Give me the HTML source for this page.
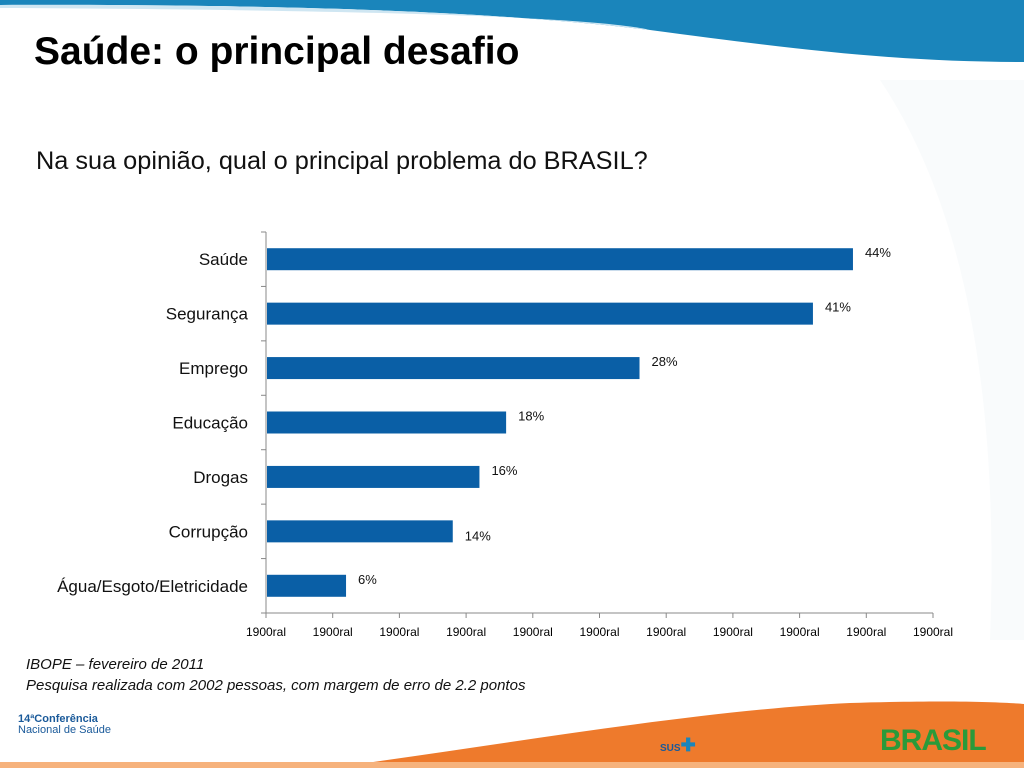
<!DOCTYPE html>
<html><head><meta charset="utf-8"><style>
body{margin:0;width:1024px;height:768px;overflow:hidden;background:#fff;font-family:"Liberation Sans",sans-serif;position:relative}
.t{position:absolute;white-space:nowrap}
</style></head><body>
<svg width="1024" height="768" style="position:absolute;left:0;top:0">
<path d="M0,0 L1024,0 L1024,62 C900,62 800,50 650,30 C500,12 300,4 0,5 Z" fill="#1a85bb"/>
<path d="M0,5 C300,4 500,12 650,30 C600,18 400,10 0,8 Z" fill="#cfe6f2"/>
<path d="M330,768 C500,745 700,710 850,703 C950,700 1000,702 1024,704 L1024,768 Z" fill="#ee7a2c"/>
<rect x="0" y="762" width="1024" height="6" fill="#f6b27c"/>
<path d="M880,80 C960,200 1000,380 990,640 L1024,640 L1024,80 Z" fill="#f9fbfc"/>
</svg>
<div class="t" style="left:34px;top:30px;font-size:39px;font-weight:bold;color:#000">Saúde: o principal desafio</div>
<div class="t" style="left:36px;top:147px;font-size:25.3px;color:#111">Na sua opinião, qual o principal problema do BRASIL?</div>
<svg id="chart" width="1024" height="768" style="position:absolute;left:0;top:0"></svg>
<div class="t" style="left:26px;top:654px;font-size:15px;font-style:italic;line-height:21px;color:#111">IBOPE – fevereiro de 2011<br>Pesquisa realizada com 2002 pessoas, com margem de erro de 2.2 pontos</div>
<div class="t" style="left:18px;top:714px;font-size:11px;font-weight:bold;color:#1a5a9a;line-height:11px">14ªConferência<br><span style="font-weight:normal">Nacional de Saúde</span></div>
<div class="t" style="left:660px;top:735px;font-size:10px;font-weight:bold;color:#1a5a9a">SUS<span style="color:#1a85bb;font-size:18px">✚</span></div>
<div class="t" style="left:880px;top:724px;font-size:30px;font-weight:bold;color:#2a9a3a;letter-spacing:-1px">BRASIL</div>
<script>
const categories=["Saúde","Segurança","Emprego","Educação","Drogas","Corrupção","Água/Esgoto/Eletricidade"];
const values=[44,41,28,18,16,14,6];
const labels=["44%","41%","28%","18%","16%","14%","6%"];
const tickLabels=["1900ral","1900ral","1900ral","1900ral","1900ral","1900ral","1900ral","1900ral","1900ral","1900ral","1900ral"];
const NS="http://www.w3.org/2000/svg",svg=document.getElementById('chart');
const x0=266,x1=933,y0=232,y1=613,maxV=50;
const xs=v=>x0+(x1-x0)*v/maxV;
const band=(y1-y0)/categories.length;
const yc=i=>y0+band*(i+0.5);
function mk(t,a){const e=document.createElementNS(NS,t);for(const k in a)e.setAttribute(k,a[k]);svg.appendChild(e);return e;}
let ax=mk('line',{x1:x0,y1:y0,x2:x0,y2:y1,stroke:'#888'});


let bx=mk('line',{x1:x0,y1:y1,x2:x1,y2:y1,stroke:'#888'});


for(let i=0;i<=categories.length;i++){mk('line',{x1:x0-5,x2:x0,y1:y0+band*i,y2:y0+band*i,stroke:'#888'});}
tickLabels.forEach((t,i)=>{const v=i*maxV/(tickLabels.length-1);
mk('line',{x1:xs(v),x2:xs(v),y1:y1,y2:y1+5,stroke:'#888'});
const e=mk('text',{x:xs(v),y:y1+23,'text-anchor':'middle','font-size':12,fill:'#000'});e.textContent=t;

});
categories.forEach((c,i)=>{
const r=mk('rect',{x:x0+1,y:yc(i)-11,width:xs(values[i])-x0-1,height:22,fill:'#0a5fa6'});


const t=mk('text',{x:248,y:yc(i)+6,'text-anchor':'end','font-size':17,fill:'#111'});t.textContent=c;


const l=mk('text',{x:xs(values[i])+12,y:yc(i)+(i==5?9:-2),'font-size':13,fill:'#111'});l.textContent=labels[i];


});
</script>
</body></html>
